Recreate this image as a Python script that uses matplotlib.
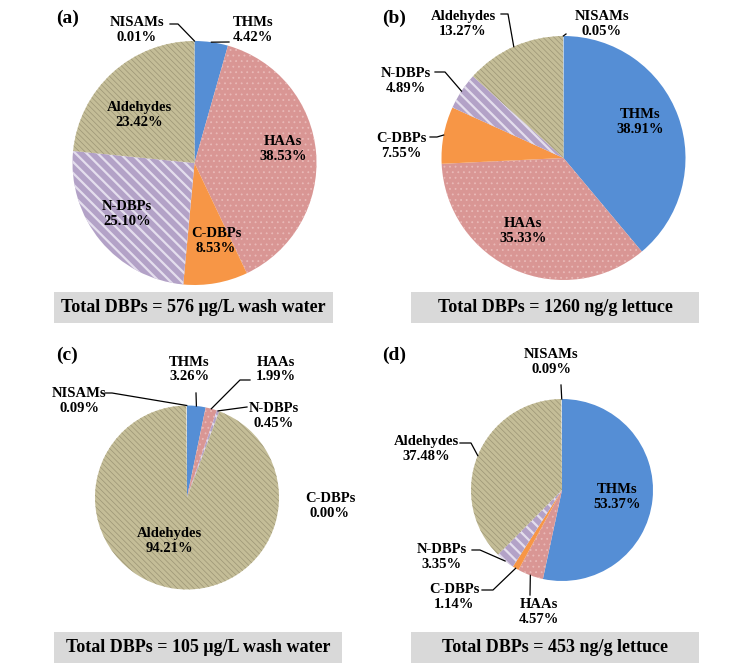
import numpy as np
import matplotlib.pyplot as plt
from matplotlib.patches import Rectangle

plt.rcParams['font.family'] = ['Liberation Serif', 'DejaVu Serif']
plt.rcParams['font.weight'] = 'bold'

# data (percent of total DBPs), clockwise from 12 o'clock
groups = ['THMs', 'HAAs', 'C-DBPs', 'N-DBPs', 'Aldehydes', 'NISAMs']
wash_a = [4.42, 38.53, 8.53, 25.10, 23.42, 0.01]
lettuce_b = [38.91, 35.33, 7.55, 4.89, 13.27, 0.05]
wash_c = [3.26, 1.99, 0.00, 0.45, 94.21, 0.09]
lettuce_d = [53.37, 4.57, 1.14, 3.35, 37.48, 0.09]
totals = ['Total DBPs = 576 \u03bcg/L wash water',
          'Total DBPs = 1260 ng/g lettuce',
          'Total DBPs = 105 \u03bcg/L wash water',
          'Total DBPs = 453 ng/g lettuce']
tags = ['(a)', '(b)', '(c)', '(d)']

# slice styles: face colour, hatch, hatch colour, hatch width
styles = {
    'THMs': ('#558ED5', None, '#558ED5', 0.5),
    'HAAs': ('#D99694', '...', '#E9B9B7', 0.6),
    'C-DBPs': ('#F79646', None, '#F79646', 0.5),
    'N-DBPs': ('#B3A2C7', '\\\\\\', '#E4DEED', 1.6),
    'Aldehydes': ('#C4BD97', '\\\\\\\\\\\\', '#9C9575', 0.5),
    'NISAMs': ('#DCE6F2', None, '#DCE6F2', 0.5),
}

W, H = 731, 664

# layout in pixels (y from top): pie centre, radius, label centres, leader waypoints
panels = [
    dict(vals=wash_a, c=(194.5, 163), r=122, tag=(68, 18), box=(54, 292, 279, 31),
         lab={'THMs': (253, 30), 'HAAs': (283, 149), 'C-DBPs': (216, 241),
              'N-DBPs': (127, 214), 'Aldehydes': (139, 115), 'NISAMs': (137, 30)},
         lead={'THMs': [(229, 42)], 'NISAMs': [(170, 24), (178, 24)]}),
    dict(vals=lettuce_b, c=(563.5, 158), r=122, tag=(394, 18), box=(411, 292, 288, 31),
         lab={'THMs': (640, 122), 'HAAs': (523, 231), 'C-DBPs': (401, 146),
              'N-DBPs': (406, 81), 'Aldehydes': (463, 24), 'NISAMs': (602, 24)},
         lead={'C-DBPs': [(430, 137), (437, 137)], 'N-DBPs': [(435, 72), (445, 72)],
               'Aldehydes': [(501, 14), (508, 14)], 'NISAMs': [(566, 34)]}),
    dict(vals=wash_c, c=(187, 497.5), r=92, tag=(67, 355), box=(54, 632, 288, 31),
         lab={'THMs': (189, 369.5), 'HAAs': (276, 369.5), 'C-DBPs': (330, 506),
              'N-DBPs': (274, 416), 'Aldehydes': (169, 541), 'NISAMs': (79, 401)},
         lead={'THMs': [(196, 393)], 'HAAs': [(250, 380), (240, 380)],
               'N-DBPs': [(247, 407)], 'NISAMs': [(105, 393), (112, 393)]}),
    dict(vals=lettuce_d, c=(562, 490), r=91, tag=(394, 355), box=(411, 632, 288, 31),
         lab={'THMs': (617, 497), 'HAAs': (539, 612), 'C-DBPs': (454, 597),
              'N-DBPs': (442, 557), 'Aldehydes': (426, 449), 'NISAMs': (551, 362)},
         lead={'HAAs': [(530, 595)], 'C-DBPs': [(482, 590), (493, 590)],
               'N-DBPs': [(472, 550), (480, 550)], 'Aldehydes': [(460, 443), (471, 443)],
               'NISAMs': [(561, 385)]}),
]

fig = plt.figure(figsize=(W / 100, H / 100), dpi=100)
ax = fig.add_axes([0, 0, 1, 1])

for p, tot, tag in zip(panels, totals, tags):
    cx, cy = p['c']
    wedges, _ = ax.pie(p['vals'], center=(cx, H - cy), radius=p['r'],
                       startangle=90, counterclock=False,
                       colors=[styles[g][0] for g in groups],
                       wedgeprops=dict(linewidth=0))
    for w, g in zip(wedges, groups):
        face, hatch, hcol, hlw = styles[g]
        if hatch:
            w.set_hatch(hatch)
            w.set_edgecolor(hcol)
            w.set_linewidth(0)
            if hasattr(w, 'set_hatch_linewidth'):
                w.set_hatch_linewidth(hlw)

    for w, g, v in zip(wedges, groups, p['vals']):
        lx, ly = p['lab'][g]
        ax.text(lx, H - ly, f'{g}\n{v:.2f}%', ha='center', va='center',
                fontsize=10.5, fontweight='bold', linespacing=1.15, zorder=5)
        if g in p['lead']:
            ang = np.deg2rad((w.theta1 + w.theta2) / 2)
            ex = w.center[0] + w.r * np.cos(ang)
            ey = w.center[1] + w.r * np.sin(ang)
            xs = [q[0] for q in p['lead'][g]] + [ex]
            ys = [H - q[1] for q in p['lead'][g]] + [ey]
            ax.plot(xs, ys, color='black', lw=0.9, zorder=4)

    bx, by, bw, bh = p['box']
    ax.add_patch(Rectangle((bx, H - by - bh), bw, bh, facecolor='#D9D9D9',
                           edgecolor='none', zorder=1))
    ax.text(bx + bw / 2, H - by - bh / 2, tot, ha='center', va='center',
            fontsize=13, fontweight='bold', zorder=5)
    ax.text(p['tag'][0], H - p['tag'][1], tag, ha='center', va='center',
            fontsize=14, fontweight='bold')

ax.set_xlim(0, W)
ax.set_ylim(0, H)
ax.set_aspect('equal')
ax.axis('off')

plt.savefig('out.png', dpi=100, facecolor='white')
